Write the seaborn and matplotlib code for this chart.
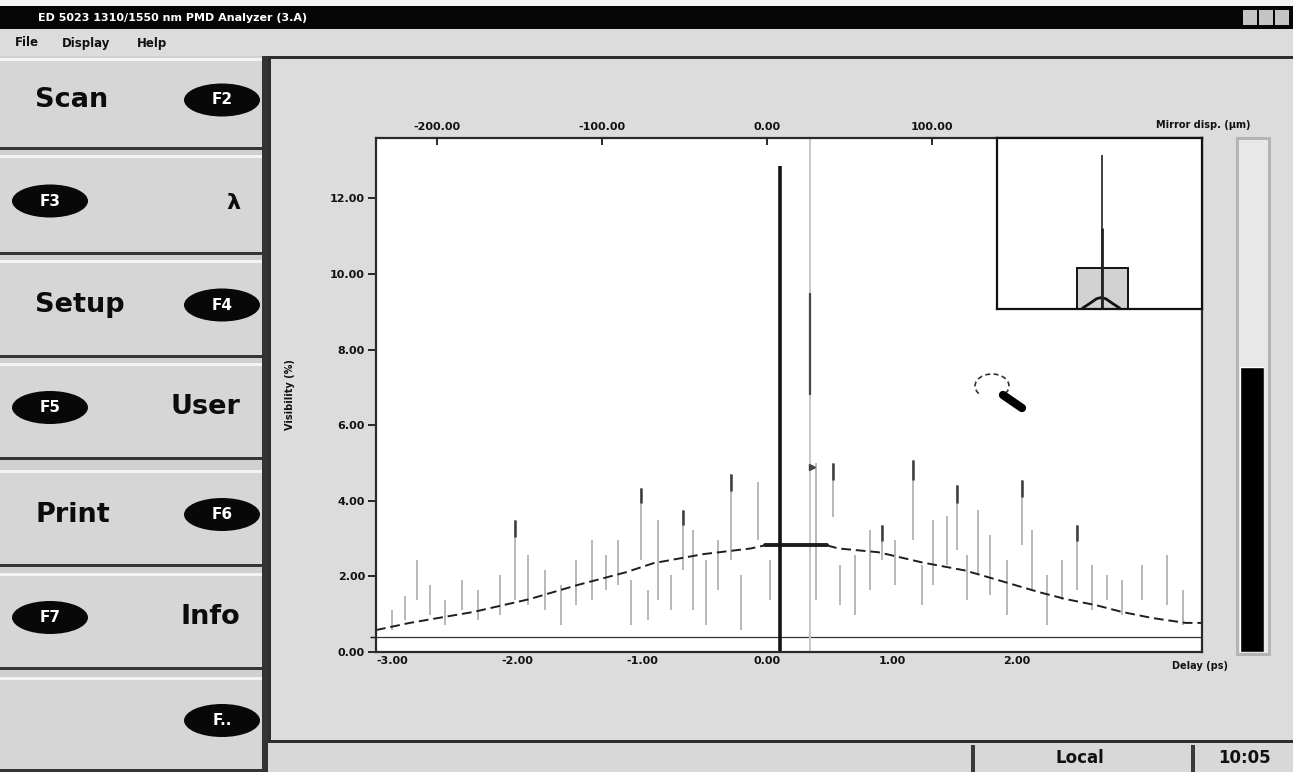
import numpy as np
import pandas as pd
import seaborn as sns
import matplotlib.pyplot as plt
from matplotlib.patches import Rectangle, Ellipse, Arc

W, H = 1293, 772

# envelope fit of the interferogram (delay in ps, visibility in %)
fit_left_delay = [-3.13, -2.86, -2.35, -1.90, -1.52, -1.13, -0.91, -0.51, -0.13, -0.02]
fit_left_value = [0.58, 0.77, 1.06, 1.40, 1.77, 2.11, 2.35, 2.59, 2.74, 2.82]
fit_top_delay = [-0.02, 0.48]
fit_top_value = [2.82, 2.82]
fit_right_delay = [0.48, 0.57, 0.89, 1.24, 1.58, 1.80, 2.18, 2.39, 2.63, 2.84, 3.08, 3.35, 3.50]
fit_right_value = [2.82, 2.74, 2.64, 2.37, 2.16, 1.95, 1.58, 1.40, 1.24, 1.06, 0.90, 0.77, 0.77]

# fringes of the interferogram (thin grey strokes)
fringe_delay = [-3.00, -2.90, -2.80, -2.70, -2.58, -2.44, -2.31, -2.14, -2.02, -1.91,
                -1.78, -1.65, -1.53, -1.40, -1.29, -1.19, -1.09, -1.01, -0.95, -0.87,
                -0.77, -0.67, -0.59, -0.49, -0.39, -0.29, -0.21, -0.07, 0.02,
                0.39, 0.53, 0.58, 0.70, 0.82, 0.92, 1.02, 1.17, 1.24, 1.33,
                1.44, 1.52, 1.60, 1.69, 1.78, 1.92, 2.04, 2.12, 2.24, 2.36,
                2.48, 2.60, 2.72, 2.84, 3.00, 3.20, 3.33]
fringe_low = [0.58, 0.84, 1.37, 0.98, 0.71, 1.11, 0.84, 0.98, 1.37, 1.24,
              1.11, 0.71, 1.24, 1.37, 1.64, 1.77, 0.71, 2.43, 0.84, 1.37,
              1.11, 2.16, 1.11, 0.71, 1.64, 2.43, 0.58, 2.96, 1.37,
              1.37, 3.56, 1.24, 0.98, 1.64, 2.43, 1.77, 2.96, 1.24, 1.77,
              2.30, 2.69, 1.37, 2.03, 1.50, 0.98, 2.82, 1.64, 0.71, 1.37,
              1.64, 1.11, 1.37, 0.98, 1.37, 1.24, 0.71]
fringe_high = [1.11, 1.48, 2.43, 1.77, 1.37, 1.90, 1.64, 2.03, 3.48, 2.56,
               2.16, 1.77, 2.43, 2.96, 2.56, 2.96, 1.90, 4.35, 1.64, 3.48,
               2.03, 3.75, 3.22, 2.43, 2.96, 4.70, 2.03, 4.49, 2.43,
               5.01, 4.99, 2.30, 2.56, 3.22, 3.35, 2.96, 5.07, 2.30, 3.48,
               3.61, 4.41, 2.56, 3.75, 3.09, 2.43, 4.54, 3.22, 2.03, 2.43,
               3.35, 2.30, 2.03, 1.90, 2.30, 2.56, 1.64]

# darker tips of the strongest fringes
tip_delay = [-2.02, -1.01, -0.29, -0.67, 0.53, 1.17, 1.52, 2.04, 2.48, 0.92]
tip_low = [3.05, 3.95, 4.25, 3.35, 4.55, 4.55, 3.95, 4.10, 2.95, 2.95]
tip_high = [3.48, 4.35, 4.70, 3.75, 4.99, 5.07, 4.41, 4.54, 3.35, 3.35]

peak_delay = 0.10
peak_value = 12.85
cursor_delay = 0.34
cursor_low, cursor_high = 6.8, 9.5
baseline_value = 0.4

y_ticks = [0, 2, 4, 6, 8, 10, 12]
y_labels = ["0.00", "2.00", "4.00", "6.00", "8.00", "10.00", "12.00"]
x_ticks = [-3, -2, -1, 0, 1, 2, 3]
x_labels = ["-3.00", "-2.00", "-1.00", "0.00", "1.00", "2.00", ""]
mirror_ticks = [-200, -100, 0, 100, 200]
mirror_labels = ["-200.00", "-100.00", "0.00", "100.00", ""]
um_per_ps = 75.7

# overview inset
overview_delay = [-2.4, -1.5, -0.6, 0.0, 0.6, 1.5, 2.4]
overview_value = [0.3, 1.8, 3.4, 3.8, 3.4, 1.8, 0.3]
overview_peak = 51.0
overview_peak_thick = 27.0

signal_level = [55.7]

buttons = [("Scan", "F2", 58, 150), ("\u03bb", "F3", 155, 255), ("Setup", "F4", 260, 358),
           ("User", "F5", 363, 460), ("Print", "F6", 470, 567), ("Info", "F7", 573, 670),
           ("", "F..", 677, 772)]

sns.set_theme(style="white")
plt.rcParams["font.family"] = ["DejaVu Sans"]
plt.rcParams["font.weight"] = "bold"

bg = "#dadada"
fig = plt.figure(figsize=(W / 100, H / 100), dpi=100, facecolor=bg)

# ---- window chrome, drawn in pixel coordinates ----
ui = fig.add_axes([0, 0, 1, 1], zorder=0)
ui.set_xlim(0, W)
ui.set_ylim(H, 0)
ui.axis("off")


def box(x0, y0, x1, y1, color, z=1):
    ui.add_patch(Rectangle((x0, y0), x1 - x0, y1 - y0, facecolor=color, edgecolor="none", zorder=z))


box(0, 0, W, 6, "#f4f4f4")
box(0, 6, W, 29, "#050505")
ui.text(38, 18, "ED 5023 1310/1550 nm PMD Analyzer (3.A)", color="white", fontsize=8,
        fontweight="bold", va="center")
for bx in [1243, 1259, 1275]:
    box(bx, 10, bx + 14, 25, "#c4c4c4", z=2)
box(0, 29, W, 56, "#dcdcdc")
for mx, name in [(15, "File"), (62, "Display"), (137, "Help")]:
    ui.text(mx, 43, name, fontsize=8.5, fontweight="bold", va="center", color="#111")

# left button column
box(0, 56, 268, H, "#d0d0d0")
for label, key, top, bot in buttons:
    box(0, top, 262, bot, "#d6d6d6", z=2)
    box(0, top, 262, top + 3, "#f3f3f3", z=3)
    box(0, bot - 3, 262, bot, "#353535", z=3)
    mid = (top + bot) / 2 - 4
    key_right = key in ["F2", "F4", "F6", "F.."]
    kx = 222 if key_right else 50
    ui.add_patch(Ellipse((kx, mid), 76, 33, facecolor="#080808", edgecolor="none", zorder=4))
    ui.text(kx, mid, key, color="white", fontsize=11, fontweight="bold",
            ha="center", va="center", zorder=5)
    if label:
        if key_right:
            ui.text(35, mid, label, fontsize=19.5, fontweight="bold", va="center", color="#0c0c0c", zorder=5)
        elif label == "\u03bb":
            ui.text(240, mid + 2, label, fontsize=16, fontweight="bold", va="center", ha="right",
                    color="#0c0c0c", zorder=5)
        else:
            ui.text(240, mid, label, fontsize=19.5, fontweight="bold", va="center", ha="right",
                    color="#0c0c0c", zorder=5)
box(262, 56, 268, H, "#333333", z=4)

# main panel and status bar
box(268, 56, W, 742, "#dcdcdc")
box(268, 56, W, 59, "#2e2e2e", z=2)
box(268, 56, 271, 742, "#2e2e2e", z=2)
box(268, 740, W, 743, "#2e2e2e", z=2)
box(268, 743, W, H, "#d8d8d8")
box(971, 745, 975, H, "#3a3a3a", z=2)
box(1191, 745, 1195, H, "#3a3a3a", z=2)
ui.text(1080, 758, "Local", fontsize=12, fontweight="bold", ha="center", va="center", color="#111")
ui.text(1245, 758, "10:05", fontsize=12, fontweight="bold", ha="center", va="center", color="#111")

# level gauge frame
box(1236, 137, 1271, 656, "#b4b4b4", z=2)
box(1239, 140, 1268, 653, "#e8e8e8", z=3)


def px_axes(x0, y0, x1, y1, **kw):
    return fig.add_axes([x0 / W, 1 - y1 / H, (x1 - x0) / W, (y1 - y0) / H], **kw)


# ---- interferogram ----
ax = px_axes(376, 138, 1202, 652, zorder=2)
ax.set_facecolor("white")
ax.vlines(fringe_delay, fringe_low, fringe_high, colors="#a4a4a4", lw=1.1)
ax.vlines(tip_delay, tip_low, tip_high, colors="#3c3c3c", lw=1.8)
ax.axhline(baseline_value, color="#333333", lw=0.9)
ax.axvline(cursor_delay, color="#c9c9c9", lw=1.5)
ax.vlines(cursor_delay, cursor_low, cursor_high, colors="#4a4a4a", lw=1.6)
ax.plot([cursor_delay + 0.02], [4.9], marker=">", ms=4, color="#444444")

fit_style = dict(ax=ax, color="#1e1e1e", errorbar=None, sort=False)
sns.lineplot(x=fit_left_delay, y=fit_left_value, lw=1.4, linestyle=(0, (5, 2.5)), **fit_style)
sns.lineplot(x=fit_right_delay, y=fit_right_value, lw=1.4, linestyle=(0, (5, 2.5)), **fit_style)
sns.lineplot(x=fit_top_delay, y=fit_top_value, lw=2.8, **fit_style)
ax.vlines(peak_delay, 0, peak_value, colors="#141414", lw=2.6)

ax.set_xlim(-3.13, 3.48)
ax.set_ylim(0, 13.6)
ax.set_xticks(x_ticks, x_labels)
ax.set_yticks(y_ticks, y_labels)
ax.set_yticks([baseline_value], minor=True)
ax.tick_params(axis="x", direction="in", length=5, pad=3, labelsize=8, colors="#111")
ax.tick_params(axis="y", direction="out", length=6, pad=2, labelsize=8, colors="#111", left=True)
ax.tick_params(axis="y", which="minor", direction="out", length=4, left=True, colors="#111")
for s in ax.spines.values():
    s.set_color("#2a2a2a")
    s.set_linewidth(1.6)
    s.set_visible(True)
for lab in ax.get_xticklabels() + ax.get_yticklabels():
    lab.set_fontweight("bold")

top = ax.secondary_xaxis("top", functions=(lambda x: x * um_per_ps, lambda m: m / um_per_ps))
top.set_xticks(mirror_ticks, mirror_labels)
top.tick_params(direction="in", length=5, pad=4, labelsize=8, colors="#111")
for lab in top.get_xticklabels():
    lab.set_fontweight("bold")

ui.text(1200, 666, "Delay (ps)", fontsize=7, fontweight="bold", ha="center", va="center", color="#111")
ui.text(1203, 125, "Mirror disp. (\u00b5m)", fontsize=7, fontweight="bold", ha="center",
        va="center", color="#111")
ui.text(290, 395, "Visibility (%)", fontsize=7, fontweight="bold", rotation=90,
        ha="center", va="center", color="#111")

# polarisation cursor icon
ax.add_patch(Arc((992, 386), 34, 24, theta1=150, theta2=400, ls=(0, (3, 2)), lw=1.2,
                 edgecolor="#333333", transform=ui.transData))
ax.plot([1003, 1022], [395, 408], color="black", lw=6, solid_capstyle="round",
        transform=ui.transData)

# ---- overview inset ----
ins = px_axes(997, 138, 1202, 309, zorder=3)
ins.set_facecolor("white")
ins.add_patch(Rectangle((-3.13, 0), 6.61, 13.6, facecolor="#d2d2d2", edgecolor="#111", lw=1.4))
sns.lineplot(x=overview_delay, y=overview_value, ax=ins, color="#111", lw=2.0, errorbar=None)
ins.vlines(0.1, 0, overview_peak, colors="#222", lw=1.2)
ins.vlines(0.1, 0, overview_peak_thick, colors="#222", lw=2.0)
ins.set_xlim(-13.5, 13.07)
ins.set_ylim(0, 56.7)
ins.set_xticks([])
ins.set_yticks([])
for s in ins.spines.values():
    s.set_color("#111")
    s.set_linewidth(1.6)
    s.set_visible(True)

# ---- signal level gauge ----
g = px_axes(1240, 141, 1264, 652, zorder=4)
sns.barplot(x=["level"], y=signal_level, color="black", width=1.0, ax=g, saturation=1)
g.set_ylim(0, 100)
g.set_xlim(-0.5, 0.5)
g.axis("off")

fig.savefig("out.png", dpi=100, facecolor=bg)
